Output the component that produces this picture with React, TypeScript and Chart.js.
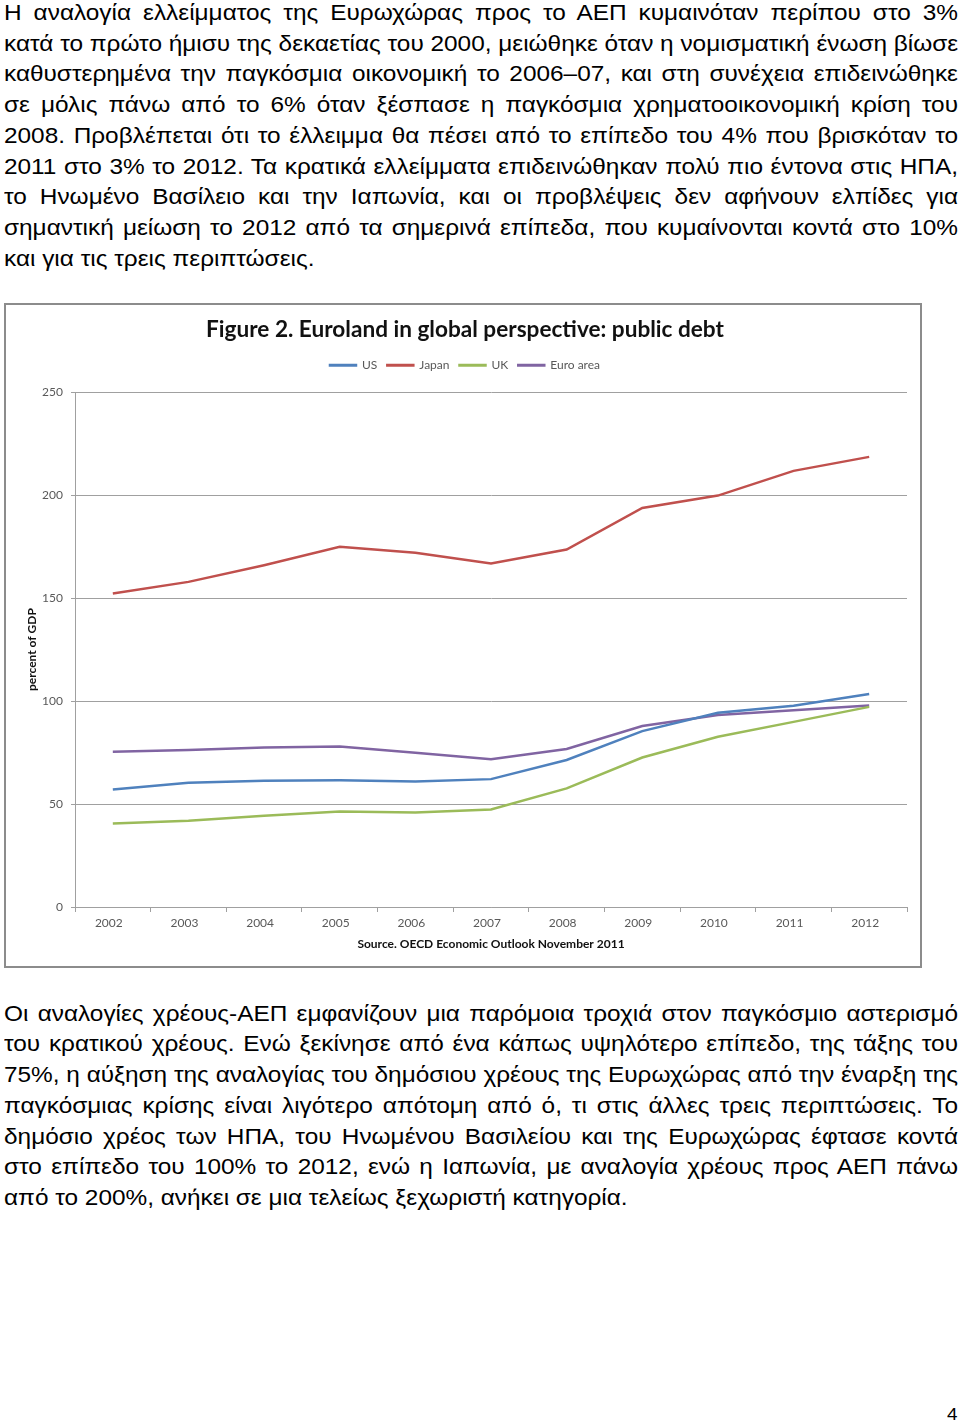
import React, { useEffect, useRef } from "react";
import { Chart, registerables } from "chart.js";

Chart.register(...registerables);

const years = ["2002", "2003", "2004", "2005", "2006", "2007", "2008", "2009", "2010", "2011", "2012"];
const usDebt = [57.1, 60.3, 61.3, 61.5, 61.0, 62.1, 71.4, 85.4, 94.3, 97.7, 103.4];
const japanDebt = [152.3, 157.9, 166.0, 174.9, 172.0, 166.8, 173.6, 193.8, 199.8, 211.8, 218.6];
const ukDebt = [40.6, 41.9, 44.3, 46.4, 45.9, 47.4, 57.6, 72.6, 82.7, 89.9, 97.2];
const euroDebt = [75.4, 76.2, 77.5, 78.0, 74.9, 71.7, 76.7, 87.9, 93.2, 95.6, 97.9];
const seriesNames = ["US", "Japan", "UK", "Euro area"];
const seriesColors = ["#4F81BD", "#C0504D", "#9BBB59", "#8064A2"];
const yMin = 0;
const yMax = 250;
const yStep = 50;

const chartTitle = "Figure 2. Euroland in global perspective: public debt";
const yTitle = "percent of GDP";
const sourceNote = "Source. OECD Economic Outlook November 2011";

const para1 = [
  "Η αναλογία ελλείμματος της Ευρωχώρας προς το ΑΕΠ κυμαινόταν περίπου στο 3%",
  "κατά το πρώτο ήμισυ της δεκαετίας του 2000, μειώθηκε όταν η νομισματική ένωση βίωσε",
  "καθυστερημένα την παγκόσμια οικονομική το 2006–07, και στη συνέχεια επιδεινώθηκε",
  "σε μόλις πάνω από το 6% όταν ξέσπασε η παγκόσμια χρηματοοικονομική κρίση του",
  "2008. Προβλέπεται ότι το έλλειμμα θα πέσει από το επίπεδο του 4% που βρισκόταν το",
  "2011 στο 3% το 2012. Τα κρατικά ελλείμματα επιδεινώθηκαν πολύ πιο έντονα στις ΗΠΑ,",
  "το Ηνωμένο Βασίλειο και την Ιαπωνία, και οι προβλέψεις δεν αφήνουν ελπίδες για",
  "σημαντική μείωση το 2012 από τα σημερινά επίπεδα, που κυμαίνονται κοντά στο 10%",
  "και για τις τρεις περιπτώσεις.",
];

const para2 = [
  "Οι αναλογίες χρέους-ΑΕΠ εμφανίζουν μια παρόμοια τροχιά στον παγκόσμιο αστερισμό",
  "του κρατικού χρέους. Ενώ ξεκίνησε από ένα κάπως υψηλότερο επίπεδο, της τάξης του",
  "75%, η αύξηση της αναλογίας του δημόσιου χρέους της Ευρωχώρας από την έναρξη της",
  "παγκόσμιας κρίσης είναι λιγότερο απότομη από ό, τι στις άλλες τρεις περιπτώσεις. Το",
  "δημόσιο χρέος των ΗΠΑ, του Ηνωμένου Βασιλείου και της Ευρωχώρας έφτασε κοντά",
  "στο επίπεδο του 100% το 2012, ενώ η Ιαπωνία, με αναλογία χρέους προς ΑΕΠ πάνω",
  "από το 200%, ανήκει σε μια τελείως ξεχωριστή κατηγορία.",
];

const pageNumber = "4";

const STRETCH = 1.108;

function Para({ lines, top }: { lines: string[]; top: number }) {
  return (
    <div
      style={{
        position: "absolute",
        left: 4,
        top,
        width: 954 / STRETCH,
        transform: `scaleX(${STRETCH})`,
        transformOrigin: "0 0",
        fontFamily: '"Liberation Sans", Arial, sans-serif',
        fontSize: 22,
        lineHeight: "30.8px",
        color: "#000",
      }}
    >
      {lines.map((l, i) => {
        const last = i === lines.length - 1;
        return (
          <div
            key={i}
            style={{
              whiteSpace: "nowrap",
              textAlign: last ? "left" : "justify",
              textAlignLast: last ? "left" : "justify",
            } as React.CSSProperties}
          >
            {l}
          </div>
        );
      })}
    </div>
  );
}

function DebtChart() {
  const ref = useRef<HTMLCanvasElement>(null);
  useEffect(() => {
    if (!ref.current) return;
    const seriesData = [usDebt, japanDebt, ukDebt, euroDebt];
    const font = "Lato";
    const chart = new Chart(ref.current, {
      type: "line",
      data: {
        labels: years,
        datasets: seriesNames.map((name, i) => ({
          label: name,
          data: seriesData[i],
          borderColor: seriesColors[i],
          backgroundColor: seriesColors[i],
          borderWidth: 2.5,
          pointRadius: 0,
          tension: 0,
          fill: false,
        })),
      },
      options: {
        animation: false,
        responsive: false,
        devicePixelRatio: 1,
        layout: { padding: { left: 17, right: 13, top: 0, bottom: 10.8 } },
        plugins: {
          title: {
            display: true,
            text: chartTitle,
            color: "#111",
            font: { family: font, size: 22.6, weight: "bold" },
            padding: { top: 11.5, bottom: 5.6 },
          },
          legend: {
            display: true,
            position: "top",
            labels: {
              boxWidth: 26,
              boxHeight: 0.5,
              padding: 10,
              color: "#595959",
              font: { family: font, size: 12 },
            },
          },
          subtitle: {
            display: true,
            text: " ",
            font: { size: 1 },
            padding: { top: 0, bottom: 9.8 },
            weight: 500,
          } as any,
          tooltip: { enabled: false },
        },
        scales: {
          x: {
            offset: true,
            grid: {
              offset: true,
              drawOnChartArea: false,
              drawTicks: true,
              tickLength: 5,
              color: "#a0a0a0",
            },
            border: { display: true, color: "#a0a0a0" },
            ticks: {
              padding: 3.8,
              color: "#595959",
              font: { family: font, size: 12 },
              maxRotation: 0,
              autoSkip: false,
              labelOffset: -4,
            },
            title: {
              display: true,
              text: sourceNote,
              color: "#111",
              font: { family: font, size: 12, weight: "bold" },
              padding: { top: 2.8, bottom: 4 },
            },
          },
          y: {
            min: yMin,
            max: yMax,
            ticks: {
              stepSize: yStep,
              padding: 8,
              color: "#595959",
              font: { family: font, size: 12 },
            },
            grid: { color: "#a0a0a0", tickLength: 4 },
            border: { display: true, color: "#a0a0a0" },
            title: {
              display: true,
              text: yTitle,
              color: "#111",
              font: { family: font, size: 12, weight: "bold" },
              padding: { top: 1.8, bottom: 0 },
            },
            afterFit: (s: any) => {
              s.width = 52;
            },
          },
        },
      },
    });
    return () => chart.destroy();
  }, []);
  return (
    <div
      style={{
        position: "absolute",
        left: 4,
        top: 303,
        width: 914,
        height: 661,
        border: "2px solid #8c8c8c",
        background: "#fff",
      }}
    >
      <canvas ref={ref} width={914} height={661} style={{ display: "block", width: 914, height: 661 }} />
    </div>
  );
}

export default function App() {
  return (
    <div style={{ position: "absolute", left: 0, top: 0, width: 960, height: 1423, background: "#fff", overflow: "hidden" }}>
      <Para lines={para1} top={-2.3} />
      <DebtChart />
      <Para lines={para2} top={998.5} />
      <div
        style={{
          position: "absolute",
          left: 947,
          top: 1405.6,
          transform: `scaleX(${STRETCH})`,
          transformOrigin: "0 0",
          fontFamily: '"Liberation Sans", Arial, sans-serif',
          fontSize: 17,
          lineHeight: "17px",
          color: "#000",
        }}
      >
        {pageNumber}
      </div>
    </div>
  );
}
